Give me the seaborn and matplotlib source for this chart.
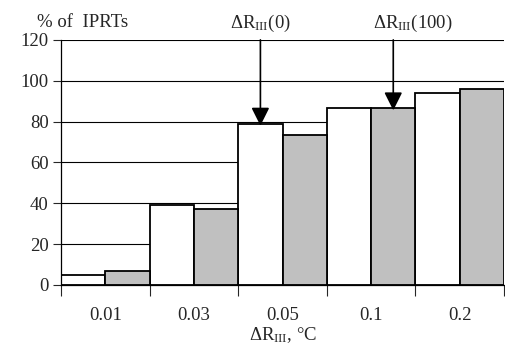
import numpy as np
import pandas as pd
import matplotlib
matplotlib.use("Agg")
import matplotlib.pyplot as plt
import seaborn as sns

# data
thresholds = ["0.01", "0.03", "0.05", "0.1", "0.2"]
pct_r0 = [5, 39, 79, 86.5, 94]      # white bars, dR_III(0)
pct_r100 = [7, 37, 73.5, 86.5, 96]  # grey bars, dR_III(100)
series = ["R0", "R100"]

df = pd.DataFrame({
    "thr": thresholds * 2,
    "pct": pct_r0 + pct_r100,
    "cond": [series[0]] * len(thresholds) + [series[1]] * len(thresholds),
})

sns.set_style("white")
plt.rcParams["font.family"] = "serif"
plt.rcParams["font.serif"] = ["Liberation Serif", "DejaVu Serif"]
plt.rcParams["mathtext.fontset"] = "custom"
plt.rcParams["mathtext.rm"] = "Liberation Serif"
plt.rcParams["mathtext.it"] = "Liberation Serif:italic"
fs = 13.5

fig = plt.figure(figsize=(5.05, 3.5), dpi=100)
ax = fig.add_axes([0.121, 0.186, 0.877, 0.70])

ax.set_axisbelow(True)
ax.yaxis.grid(True, color="black", linewidth=0.8)
sns.barplot(data=df, x="thr", y="pct", hue="cond", order=thresholds,
            palette=["white", "#c0c0c0"], edgecolor="black", linewidth=1.3,
            width=1.0, gap=0, legend=False, ax=ax)

ax.set_ylim(0, 120)
ax.set_xlim(-0.5, len(thresholds) - 0.5)
ax.set_yticks(np.arange(0, 121, 20))
ax.tick_params(axis="y", labelsize=fs, length=6, width=0.8, direction="out", left=True, pad=3)
ax.tick_params(axis="x", which="major", labelsize=fs, length=0, pad=16)
ax.set_xticks(np.arange(len(thresholds) + 1) - 0.5, minor=True)
ax.tick_params(axis="x", which="minor", length=8, width=0.8, direction="out", bottom=True)

for s in ["top", "right"]:
    ax.spines[s].set_visible(False)
for s in ["left", "bottom"]:
    ax.spines[s].set_color("black")
    ax.spines[s].set_linewidth(0.9)

ax.set_xlabel(r"$\Delta$R$_{\rm III}$, °C", fontsize=fs, labelpad=1)
ax.set_ylabel("")
ax.text(-0.055, 1.035, "% of  IPRTs", transform=ax.transAxes, fontsize=fs,
        ha="left", va="bottom")

# arrows pointing at the two highlighted bars
marks = [(2, 0, pct_r0[2], r"$\Delta$R$_{\rm III}$(0)", 0),
         (3, 1, pct_r100[3], r"$\Delta$R$_{\rm III}$(100)", 14)]
for ci, si, val, lab, dx in marks:
    xb = ci - 0.25 + 0.5 * si
    ax.annotate("", xy=(xb, val - 1), xytext=(xb, 120),
                arrowprops=dict(arrowstyle="-|>,head_length=1.1,head_width=0.55",
                                color="black", lw=1.2, shrinkA=0, shrinkB=0))
    ax.annotate(lab, xy=(xb, 123), xytext=(dx, 0), textcoords="offset points",
                fontsize=fs, ha="center", va="bottom", annotation_clip=False)

fig.savefig("out.png", dpi=100)
